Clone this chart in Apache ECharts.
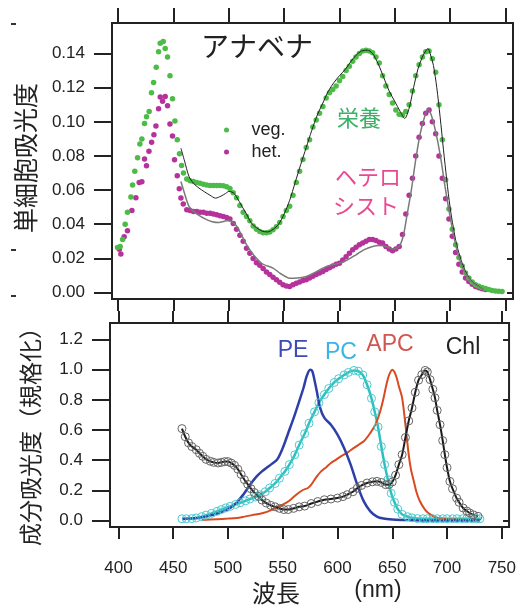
<!DOCTYPE html>
<html>
<head>
<meta charset="utf-8">
<script src="https://cdn.jsdelivr.net/npm/echarts@6/dist/echarts.min.js"></script>
<style>
  html, body { margin: 0; padding: 0; background: #fff; }
  #app { width: 519px; height: 608px; }
</style>
</head>
<body>
<div id="app"></div>
<script>
// tick values
const xTicks = [400, 450, 500, 550, 600, 650, 700, 750];
const topTicks = [0, 0.02, 0.04, 0.06, 0.08, 0.1, 0.12, 0.14];
const bottomTicks = [0, 0.2, 0.4, 0.6, 0.8, 1.0, 1.2];

// upper panel: whole-cell absorbance [nm, value]
const vegDots = [
  [399.4, 0.0264], [401.8, 0.027], [404, 0.031], [406.3, 0.040], [408.4, 0.047],
  [411.5, 0.056], [413, 0.063], [415, 0.071], [417.5, 0.079], [419.6, 0.087],
  [421.4, 0.090], [423.8, 0.099], [425.6, 0.103], [428, 0.106], [430.1, 0.117],
  [432, 0.123], [434.4, 0.132], [436.5, 0.141], [438, 0.146], [440.7, 0.147],
  [442.5, 0.143], [444.6, 0.138], [446.8, 0.127], [449.1, 0.1135], [451.3, 0.1005],
  [453.4, 0.0895], [455.4, 0.0813], [457.3, 0.0744], [459, 0.070],
  [462, 0.0665], [465, 0.0655], [468, 0.065], [471, 0.0645], [474, 0.064],
  [477, 0.0635], [480, 0.063], [483, 0.0627], [486, 0.0627], [489, 0.0627],
  [492, 0.0627], [495, 0.0625], [498, 0.062], [501, 0.061], [504, 0.0585],
  [507, 0.0555], [510, 0.051], [513, 0.047], [516, 0.0445], [519, 0.042],
  [522, 0.039], [525, 0.037], [528, 0.0358], [531, 0.035], [534, 0.035],
  [537, 0.0355], [540, 0.0368], [543, 0.0385], [546, 0.041], [549, 0.0445],
  [552, 0.048], [555, 0.0505], [558, 0.057], [561, 0.0645], [564, 0.071],
  [567, 0.078], [570, 0.085], [573, 0.0895], [576, 0.097], [579, 0.101],
  [582, 0.105], [585, 0.109], [588, 0.114], [591, 0.117], [594, 0.119],
  [597, 0.121], [600, 0.124], [603, 0.1265], [606, 0.130], [609, 0.1325],
  [612, 0.1355], [615, 0.138], [618, 0.140], [621, 0.1415], [624, 0.142],
  [627, 0.1415], [630, 0.1405], [633, 0.138], [636, 0.1345], [639, 0.127],
  [642, 0.121], [645, 0.116], [648, 0.111], [651, 0.107], [654, 0.1045],
  [657, 0.104], [660, 0.106], [663, 0.110], [666, 0.118], [669, 0.127],
  [672, 0.1335], [675, 0.138], [678, 0.141], [681, 0.1415], [684, 0.137],
  [687, 0.129], [690, 0.110], [693, 0.0895], [696, 0.066], [699, 0.049],
  [702, 0.037], [705, 0.028], [708, 0.0205], [711, 0.0155], [714, 0.0115],
  [717, 0.0085], [720, 0.0062], [723, 0.0046], [726, 0.0036], [729, 0.003],
  [732, 0.0024], [735, 0.0018], [738, 0.0012], [741, 0.0009], [744, 0.0007],
  [747, 0.0006]
];

const hetDots = [
  [401, 0.0254], [402.4, 0.0225], [405.4, 0.0327], [408.4, 0.0362], [412.4, 0.048],
  [416, 0.0555], [419, 0.0645], [421.4, 0.0649], [423.8, 0.0782], [425.6, 0.0743],
  [427.8, 0.0827], [430.2, 0.0881], [432.3, 0.0924], [434.1, 0.0975], [436.5, 0.1077],
  [438, 0.1145], [440.1, 0.112], [442.5, 0.1149], [444.6, 0.1094], [446.8, 0.0987],
  [449.1, 0.0917], [450.9, 0.0778], [453.4, 0.0684], [455.2, 0.0608], [456.7, 0.0553],
  [458.8, 0.0518],
  [462, 0.0485], [465, 0.048], [468, 0.0475], [471, 0.0475], [474, 0.047],
  [477, 0.047], [480, 0.0465], [483, 0.0465], [486, 0.046], [489, 0.0455],
  [492, 0.045], [495, 0.0445], [498, 0.044], [501, 0.043], [504, 0.0405],
  [507, 0.037], [510, 0.0335], [513, 0.030], [516, 0.026], [519, 0.023],
  [522, 0.020], [525, 0.0175], [528, 0.016], [531, 0.014], [534, 0.012],
  [537, 0.0105], [540, 0.009], [543, 0.0075], [546, 0.006], [549, 0.0045],
  [552, 0.0038], [555, 0.0035], [558, 0.0045], [561, 0.0055], [564, 0.0062],
  [567, 0.007], [570, 0.0075], [573, 0.0085], [576, 0.0095], [579, 0.0105],
  [582, 0.0115], [585, 0.0123], [588, 0.0135], [591, 0.0145], [594, 0.0155],
  [597, 0.0165], [600, 0.0172], [603, 0.019], [606, 0.021], [609, 0.023],
  [612, 0.025], [615, 0.0265], [618, 0.028], [621, 0.029], [624, 0.030],
  [627, 0.031], [630, 0.031], [633, 0.0305], [636, 0.0295], [639, 0.029],
  [642, 0.027], [645, 0.0255], [648, 0.0245], [651, 0.0255], [654, 0.027],
  [657, 0.034], [660, 0.046], [663, 0.057], [666, 0.067], [669, 0.080],
  [672, 0.091], [675, 0.099], [678, 0.105], [681, 0.107], [684, 0.100],
  [687, 0.093], [690, 0.080], [693, 0.067], [696, 0.055], [699, 0.043],
  [702, 0.033], [705, 0.0235], [708, 0.0165], [711, 0.012], [714, 0.0085],
  [717, 0.0065], [720, 0.0048], [723, 0.0035], [726, 0.0028], [729, 0.0022],
  [732, 0.0018]
];

const vegFit = [
  [456.7, 0.0846], [460, 0.077], [464, 0.068], [468, 0.064], [473, 0.0612],
  [478, 0.059], [483, 0.057], [488, 0.0553], [493, 0.0565], [497, 0.058],
  [500, 0.0592], [504, 0.0585], [507, 0.056], [512, 0.0504], [516, 0.046],
  [520, 0.041], [525, 0.038], [530, 0.036], [535, 0.0355], [540, 0.037],
  [545, 0.040], [550, 0.046], [555, 0.054], [560, 0.0645], [565, 0.075],
  [570, 0.085], [575, 0.095], [580, 0.104], [585, 0.111], [590, 0.118],
  [595, 0.123], [600, 0.127], [605, 0.1305], [610, 0.135], [615, 0.139],
  [620, 0.1415], [625, 0.142], [630, 0.140], [635, 0.134], [640, 0.126],
  [645, 0.118], [650, 0.112], [655, 0.106], [659, 0.102], [663, 0.108],
  [667, 0.120], [671, 0.131], [675, 0.138], [678, 0.1415], [680, 0.143],
  [682, 0.140], [685, 0.133], [688, 0.120], [691, 0.103], [694, 0.084],
  [697, 0.066], [700, 0.050], [703, 0.038], [706, 0.028], [710, 0.019],
  [715, 0.011], [720, 0.0065], [725, 0.004], [730, 0.002]
];

const hetFit = [
  [456.7, 0.065], [460, 0.058], [464, 0.0505], [470, 0.0465], [479, 0.043],
  [485, 0.0415], [491, 0.041], [496, 0.0418], [500, 0.0422], [504, 0.041],
  [507, 0.039], [512, 0.033], [516, 0.028], [520, 0.024], [525, 0.020],
  [530, 0.017], [535, 0.0155], [540, 0.0143], [547, 0.011], [555, 0.0084],
  [562, 0.0085], [570, 0.0094], [577, 0.0115], [585, 0.0143], [592, 0.016],
  [600, 0.0172], [607, 0.019], [615, 0.0221], [622, 0.025], [630, 0.027],
  [636, 0.0275], [642, 0.027], [648, 0.0255], [652, 0.026], [655, 0.028],
  [658, 0.034], [661, 0.045], [665, 0.060], [669, 0.078], [673, 0.093],
  [677, 0.103], [680, 0.1075], [683, 0.104], [686, 0.097], [689, 0.088],
  [692, 0.077], [695, 0.064], [698, 0.052], [701, 0.041], [704, 0.031],
  [707, 0.023], [711, 0.015], [716, 0.009], [722, 0.005], [730, 0.002]
];

// lower panel: normalised component spectra [nm, value]
const peData = [
  [458, 0.01], [465, 0.012], [472, 0.016], [480, 0.025], [487, 0.038],
  [495, 0.058], [502, 0.082], [508, 0.12], [514, 0.171], [520, 0.235],
  [526, 0.29], [531, 0.325], [535, 0.348], [540, 0.375], [545, 0.405],
  [550, 0.48], [555, 0.58], [560, 0.68], [565, 0.79], [569, 0.88],
  [572, 0.96], [575, 1.0], [577, 0.99], [579, 0.93], [581, 0.86],
  [584, 0.75], [588, 0.68], [594, 0.635], [600, 0.569], [606, 0.481],
  [612, 0.37], [618, 0.237], [624, 0.126], [630, 0.06], [636, 0.025],
  [642, 0.012], [650, 0.006], [660, 0.003], [670, 0.001], [680, 0],
  [700, 0], [730, 0]
];

const pcData = [
  [458, 0.011], [462, 0.011], [467, 0.012], [471, 0.016], [476, 0.025],
  [480, 0.035], [485, 0.047], [490, 0.06], [494, 0.072], [498, 0.083],
  [502, 0.093], [507, 0.106], [511, 0.117], [516, 0.13], [520, 0.142],
  [525, 0.155], [529, 0.17], [534, 0.19], [538, 0.215], [543, 0.245],
  [547, 0.28], [552, 0.325], [556, 0.37], [561, 0.435], [565, 0.5],
  [570, 0.575], [574, 0.645], [579, 0.72], [583, 0.78], [588, 0.835],
  [592, 0.875], [597, 0.915], [601, 0.94], [606, 0.965], [610, 0.982],
  [615, 0.995], [619, 0.99], [623, 0.965], [627, 0.9], [631, 0.81],
  [634, 0.72], [637, 0.62], [640, 0.49], [643, 0.37], [646, 0.27],
  [649, 0.18], [652, 0.12], [655, 0.075], [659, 0.04], [664, 0.025],
  [668, 0.017], [673, 0.012], [678, 0.011], [682, 0.011], [687, 0.011],
  [691, 0.011], [696, 0.011], [700, 0.011], [705, 0.011], [709, 0.011],
  [714, 0.011], [718, 0.011], [723, 0.011], [727, 0.011], [730, 0.011]
];

const apcData = [
  [476, 0.002], [490, 0.008], [500, 0.012], [508, 0.016], [515, 0.025],
  [522, 0.035], [532, 0.049], [540, 0.07], [550, 0.104], [556, 0.13],
  [562, 0.168], [568, 0.2], [573, 0.215], [576, 0.237], [580, 0.28],
  [585, 0.325], [590, 0.355], [594, 0.381], [598, 0.4], [603, 0.425],
  [609, 0.45], [615, 0.481], [620, 0.505], [624, 0.525], [628, 0.56],
  [633, 0.614], [636, 0.66], [639, 0.724], [642, 0.81], [644, 0.879],
  [646, 0.94], [648, 0.98], [650, 1.0], [652, 0.985], [654, 0.946],
  [656, 0.89], [659, 0.813], [662, 0.635], [665, 0.436], [667, 0.34],
  [670, 0.25], [672, 0.19], [675, 0.13], [680, 0.07], [685, 0.038],
  [690, 0.02], [697, 0.011], [705, 0.007], [715, 0.005]
];

const chlData = [
  [458, 0.609], [461, 0.555], [464, 0.514], [467, 0.49], [471, 0.469],
  [474, 0.445], [477, 0.425], [480, 0.405], [484, 0.392], [487, 0.385],
  [491, 0.381], [494, 0.385], [497, 0.39], [500, 0.39], [503, 0.38],
  [506, 0.365], [509, 0.34], [512, 0.305], [515, 0.27], [518, 0.24],
  [521, 0.21], [524, 0.185], [528, 0.159], [531, 0.135], [535, 0.115],
  [539, 0.1], [543, 0.09], [547, 0.08], [551, 0.072], [555, 0.072],
  [560, 0.08], [565, 0.09], [570, 0.095], [576, 0.112], [582, 0.125],
  [588, 0.137], [594, 0.142], [600, 0.148], [605, 0.158], [609, 0.171],
  [614, 0.19], [618, 0.213], [622, 0.232], [627, 0.248], [632, 0.256],
  [636, 0.259], [640, 0.252], [644, 0.237], [647, 0.238], [650, 0.255],
  [653, 0.3], [656, 0.37], [659, 0.436], [662, 0.55], [665, 0.66],
  [668, 0.746], [671, 0.85], [674, 0.93], [677, 0.967], [680, 0.995],
  [682, 0.985], [684.5, 0.934], [687, 0.87], [689, 0.813], [691, 0.73],
  [693.6, 0.635], [696, 0.53], [698, 0.436], [700, 0.35], [702.6, 0.259],
  [705, 0.21], [708.7, 0.148], [711, 0.12], [714.7, 0.082], [718, 0.062],
  [720.7, 0.049], [724, 0.037], [728.3, 0.027]
];

const ink = "#222";
const latin = "Liberation Sans";
const cjk = "Noto Sans CJK JP";

function xAxisFor(grid, min, max, position, tickLen, showLabels) {
  return {
    type: "value",
    gridIndex: grid,
    position: position,
    min: min,
    max: max,
    axisLine: { show: false, onZero: false },
    splitLine: { show: false },
    axisTick: {
      customValues: xTicks,
      length: tickLen,
      lineStyle: { color: ink, width: 2 }
    },
    axisLabel: {
      show: showLabels,
      customValues: xTicks,
      margin: 33,
      fontFamily: latin,
      fontSize: 17,
      color: ink
    }
  };
}

function yAxisFor(grid, min, max, ticks, digits, position) {
  const left = position === "left";
  return {
    type: "value",
    gridIndex: grid,
    position: position,
    min: min,
    max: max,
    axisLine: { show: false, onZero: false },
    splitLine: { show: false },
    axisTick: {
      customValues: ticks,
      inside: !left,
      length: left ? 18 : 6,
      lineStyle: { color: ink, width: 2 }
    },
    axisLabel: {
      show: left,
      customValues: ticks,
      margin: 27,
      fontFamily: latin,
      fontSize: 17,
      color: ink,
      formatter: v => v.toFixed(digits)
    }
  };
}

function dots(name, data, color) {
  return {
    name: name,
    type: "scatter",
    xAxisIndex: 0,
    yAxisIndex: 0,
    symbolSize: 5.5,
    itemStyle: { color: color, opacity: 1 },
    data: data
  };
}

function fit(data, color, width) {
  return {
    type: "line",
    xAxisIndex: 0,
    yAxisIndex: 0,
    showSymbol: false,
    smooth: 0.3,
    lineStyle: { color: color, width: width },
    z: 3,
    data: data
  };
}

function spectrum(data, color, width, marker) {
  const s = {
    type: "line",
    xAxisIndex: 2,
    yAxisIndex: 2,
    smooth: 0.3,
    lineStyle: { color: color, width: width },
    showSymbol: !!marker,
    showAllSymbol: true,
    data: data
  };
  if (marker) {
    s.symbol = "circle";
    s.symbolSize = 8;
    s.itemStyle = { color: "rgba(255,255,255,0)", borderColor: marker, borderWidth: 1 };
  }
  return s;
}

function label(text, x, y, size, color, family) {
  return {
    type: "text",
    x: x,
    y: y,
    style: {
      text: text,
      fill: color,
      fontSize: size,
      fontFamily: family,
      align: "center",
      verticalAlign: "middle"
    }
  };
}

const chart = echarts.init(document.getElementById("app"), null, { renderer: "canvas" });

chart.setOption({
  animation: false,
  backgroundColor: "#fff",
  grid: [
    { left: 112, top: 23, width: 401, height: 276, show: true, borderColor: ink, borderWidth: 2 },
    { left: 110, top: 323, width: 403, height: 204, show: true, borderColor: ink, borderWidth: 2 }
  ],
  xAxis: [
    xAxisFor(0, 394.4, 756.9, "bottom", 12, false),
    xAxisFor(0, 394.4, 756.9, "top", 15, false),
    xAxisFor(1, 392.3, 756.6, "bottom", 12, true),
    xAxisFor(1, 392.3, 756.6, "top", 12, false)
  ],
  yAxis: [
    yAxisFor(0, -0.0038, 0.1579, topTicks, 2, "left"),
    yAxisFor(0, -0.0038, 0.1579, topTicks, 2, "right"),
    yAxisFor(1, -0.0438, 1.3096, bottomTicks, 1, "left"),
    yAxisFor(1, -0.0438, 1.3096, bottomTicks, 1, "right")
  ],
  legend: {
    data: ["veg.", "het."],
    orient: "vertical",
    left: 219,
    top: 115,
    itemWidth: 40,
    itemHeight: 5,
    itemGap: 2,
    icon: "circle",
    selectedMode: false,
    textStyle: { fontFamily: latin, fontSize: 18, color: ink, lineHeight: 20 }
  },
  series: [
    dots("het.", hetDots, "#b5329b"),
    dots("veg.", vegDots, "#4cbb47"),
    fit(vegFit, "#222", 1),
    fit(hetFit, "#7a7a7a", 1.5),
    spectrum(pcData, "#2fbfbf", 2.5, "#4ccad0"),
    spectrum(apcData, "#d94a20", 2, null),
    spectrum(peData, "#2e40a8", 2.5, null),
    spectrum(chlData, "#1a1a1a", 2, "#666")
  ],
  graphic: [
    label("アナベナ", 257, 46, 28, ink, cjk),
    label("栄養", 359, 118, 22, "#3cb068", cjk),
    label("ヘテロ", 368, 177, 22, "#e84a90", cjk),
    label("シスト", 366, 206, 22, "#e84a90", cjk),
    label("PE", 293, 351, 23, "#3b4cb4", latin),
    label("PC", 341, 353, 23, "#3ab4e6", latin),
    label("APC", 390, 345, 23, "#d0574e", latin),
    label("Chl", 463, 348, 23, ink, latin),
    label("波長", 276, 593, 24, ink, cjk),
    label("(nm)", 378, 591, 23, ink, latin),
    Object.assign(label("単細胞吸光度", 25, 158, 25, ink, cjk), { rotation: Math.PI / 2 }),
    Object.assign(label("成分吸光度（規格化）", 30, 431, 23, ink, cjk), { rotation: Math.PI / 2 }),
    { type: "rect", shape: { x: 11, y: 23, width: 5, height: 2 }, style: { fill: "#333" } },
    { type: "rect", shape: { x: 11, y: 249, width: 5, height: 2 }, style: { fill: "#333" } },
    { type: "rect", shape: { x: 11, y: 295, width: 5, height: 2 }, style: { fill: "#333" } }
  ]
});
</script>
</body>
</html>
